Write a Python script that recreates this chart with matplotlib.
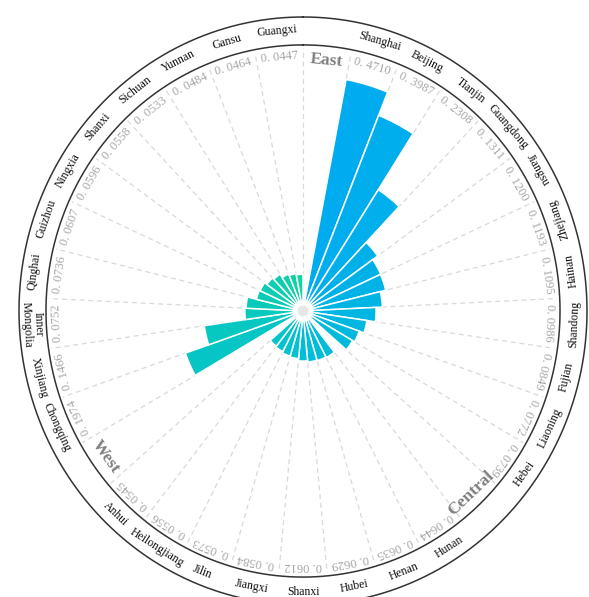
import numpy as np
import matplotlib
matplotlib.use("Agg")
import matplotlib.pyplot as plt
from matplotlib.colors import LinearSegmentedColormap

# ---------------- data ----------------
group_names = ["East", "Central", "West"]

east_names = ["Shanghai", "Beijing", "Tianjin", "Guangdong", "Jiangsu", "Zhejiang",
              "Hainan", "Shandong", "Fujian", "Liaoning", "Hebei"]
east_vals = [0.4710, 0.3987, 0.2308, 0.1311, 0.1200, 0.1193,
             0.1095, 0.0986, 0.0849, 0.0772, 0.0739]

central_names = ["Hunan", "Henan", "Hubei", "Shanxi", "Jiangxi", "Jilin",
                 "Heilongjiang", "Anhui"]
central_vals = [0.0644, 0.0635, 0.0629, 0.0612, 0.0584, 0.0573, 0.0556, 0.0545]

west_names = ["Chongqing", "Xinjiang", "Inner\nMongolia", "Qinghai", "Guizhou",
              "Ningxia", "Shanxi", "Sichuan", "Yunnan", "Gansu", "Guangxi"]
west_vals = [0.1974, 0.1466, 0.0752, 0.0736, 0.0607, 0.0596, 0.0558,
             0.0533, 0.0484, 0.0464, 0.0447]

# ---------------- layout / style ----------------
plt.rcParams["font.family"] = ["Liberation Serif", "DejaVu Serif"]

slots = []  # (kind, label, value)
for g, names, vals in zip(group_names, [east_names, central_names, west_names],
                          [east_vals, central_vals, west_vals]):
    slots.append(("group", g, None))
    for n, v in zip(names, vals):
        slots.append(("bar", n, v))

N = len(slots)
width = 2 * np.pi / N

# radial power scale
P = 0.6
B = 1.406
S0 = 0.0661
r_lo = S0 ** (1 / P)
r_hi = (1 / B + S0) ** (1 / P)


def rdata(rn):
    return (rn / B + S0) ** (1 / P)


fig = plt.figure(figsize=(5.89, 5.97), dpi=100)
W, H = 589, 597
cx, cy, rx, ry = 303, 311, 284, 294
ax = fig.add_axes([(cx - rx) / W, (H - cy - ry) / H, 2 * rx / W, 2 * ry / H],
                  projection="polar")
ax.set_aspect("auto")
ax.set_theta_zero_location("N")
ax.set_theta_direction(-1)
ax.set_rscale("function", functions=(lambda v: np.power(np.clip(v, 0, None), P),
                                     lambda s: np.power(np.clip(s, 0, None), 1 / P)))
ax.set_rlim(r_lo, r_hi)
ax.set_xticks([])
ax.set_yticks([])
ax.grid(False)
ax.spines["polar"].set_visible(False)

cmap = LinearSegmentedColormap.from_list("bt", ["#00ACEF", "#00C0D4", "#12D3A2"])
bar_idx = [i for i, s in enumerate(slots) if s[0] == "bar"]
nb = len(bar_idx)

# dashed radial gridlines at slot boundaries
for k in range(N):
    th = k * width
    ax.plot([th, th], [r_lo, rdata(0.895)], color="#d9d9d9", lw=0.9,
            ls=(0, (4, 3)), zorder=1)

# bars
thetas = [(i + 0.5) * width for i in bar_idx]
values = [slots[i][2] for i in bar_idx]
colors = [cmap(j / (nb - 1)) for j in range(nb)]
ax.bar(thetas, np.array(values) - r_lo, width=width, bottom=r_lo, color=colors,
       edgecolor="white", linewidth=1.1, zorder=3, align="center")

# center blob
ax.scatter([0], [r_lo], s=230, color="white", zorder=5, edgecolors="none")
ax.scatter([0], [r_lo], s=60, color="#e6e6e6", zorder=6, edgecolors="none")

# rings
tt = np.linspace(0, 2 * np.pi, 721)
ax.plot(tt, np.full_like(tt, rdata(0.905)), color="#333333", lw=1.1, zorder=4,
        clip_on=False)
ax.plot(tt, np.full_like(tt, r_hi), color="#333333", lw=1.1, zorder=4,
        clip_on=False)


def flip(deg):
    return 65 < deg < 272


for i, (kind, label, v) in enumerate(slots):
    th = (i + 0.5) * width
    deg = np.degrees(th)
    rot_t = -deg
    rot_f = 180 - deg if flip(deg) else -deg
    if kind == "group":
        ax.text(th, rdata(0.855), label, rotation=rot_f, rotation_mode="anchor",
                ha="center", va="center", fontsize=12.5, fontweight="bold",
                color="#7f7f7f", zorder=7)
    else:
        ax.text(th, rdata(0.867), "{:.4f}".format(v).replace(".", ". "),
                rotation=rot_t, rotation_mode="anchor", ha="center", va="center",
                fontsize=9, color="#a6a6a6", zorder=7)
        ax.text(th, rdata(0.955), label, rotation=rot_f, rotation_mode="anchor",
                ha="center", va="center", fontsize=8.5, color="#111111",
                linespacing=0.95, zorder=7)

fig.savefig("out.png", dpi=100)
